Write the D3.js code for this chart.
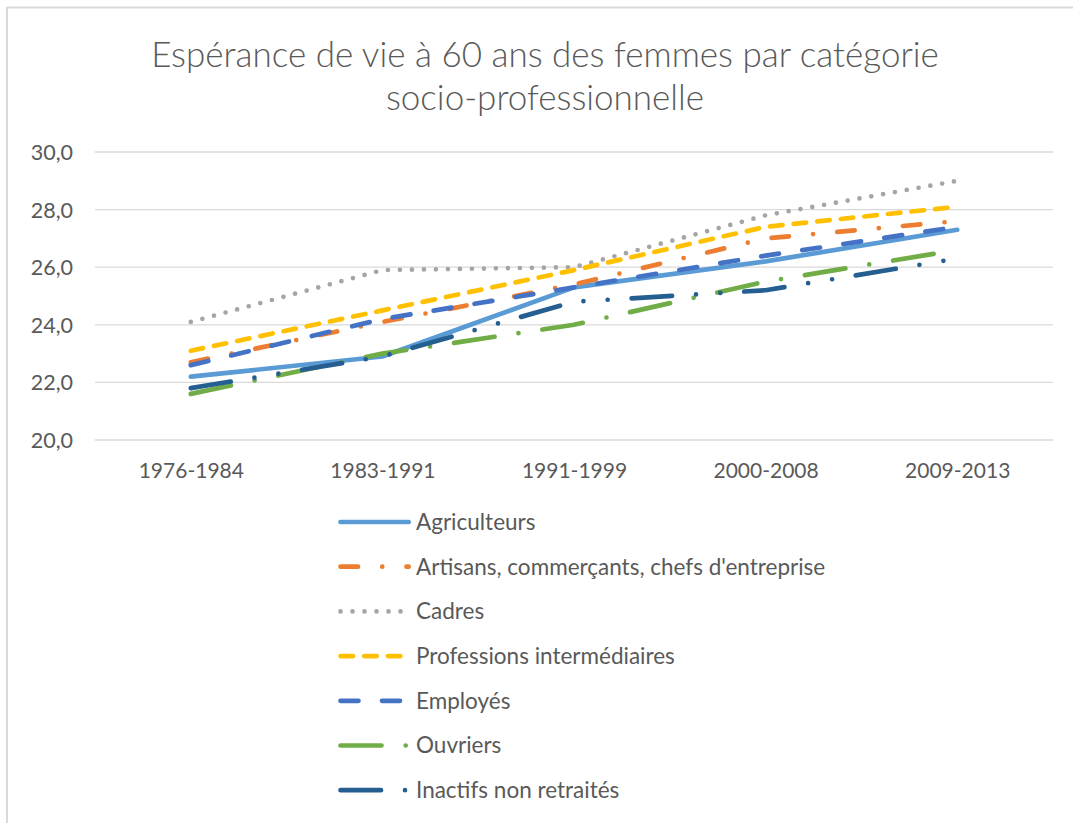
<!DOCTYPE html>
<html>
<head>
<meta charset="utf-8">
<script src="https://cdn.jsdelivr.net/npm/d3@7"></script>
<style>
  body { margin: 0; background: #fff; }
  svg { display: block; font-family: Lato, "Open Sans", sans-serif; }
  .grid line { stroke: #d9d9d9; stroke-width: 1.3; }
  .lbl { fill: #595959; font-size: 21px; }
  .leg { fill: #595959; font-size: 22.5px; }
</style>
</head>
<body>
<svg id="chart" width="1073" height="823"></svg>
<script>
// Espérance de vie à 60 ans des femmes, par CSP

var periods = ['1976-1984', '1983-1991', '1991-1999', '2000-2008', '2009-2013'];
var yTicks = [20, 22, 24, 26, 28, 30];

var seriesNames = ['Agriculteurs', 'Artisans, commerçants, chefs d\'entreprise', 'Cadres',
  'Professions intermédiaires', 'Employés', 'Ouvriers', 'Inactifs non retraités'];

var agriculteurs = [22.2, 22.9, 25.3, 26.2, 27.3];
var artisans     = [22.7, 24.1, 25.4, 27.0, 27.6];
var cadres       = [24.1, 25.9, 26.0, 27.8, 29.0];
var professions  = [23.1, 24.5, 25.9, 27.4, 28.1];
var employes     = [22.6, 24.2, 25.3, 26.4, 27.4];
var ouvriers     = [21.6, 23.0, 24.0, 25.5, 26.6];
var inactifs     = [21.8, 22.9, 24.8, 25.2, 26.3];

var allValues = [agriculteurs, artisans, cadres, professions, employes, ouvriers, inactifs];

// line looks (excel-ish)
var colors = ['#5b9bd5', '#ed7d31', '#a5a5a5', '#ffc000', '#4472c4', '#70ad47', '#255e91'];
var dashes = [null, '17.5 24.25 0 24.25', '0 12', '12.5 11.2', '18 23.5',
  '41 24.2 0 24.2', '40.5 24 0 24.3 0 24'];

var svg = d3.select('#chart');
var W = 1073, H = 823;

// frame (only top + left visible in the screenshot)
svg.append('line').attr('x1', 7).attr('y1', 7.5).attr('x2', W).attr('y2', 7.5)
  .attr('stroke', '#d9d9d9').attr('stroke-width', 2);
svg.append('line').attr('x1', 7).attr('y1', 7).attr('x2', 7).attr('y2', H)
  .attr('stroke', '#d9d9d9').attr('stroke-width', 2);

var margin = { top: 152, right: 20, bottom: 383, left: 95 };
var plotRight = 1053;

var x = d3.scalePoint().domain(periods).range([margin.left, plotRight]).padding(0.5);
var y = d3.scaleLinear().domain([20, 30]).range([440, 152]);

// title
var title = svg.append('text')
  .attr('x', 545).attr('text-anchor', 'middle')
  .style('font-size', '35px').style('font-weight', 300).style('fill', '#595959');
title.append('tspan').attr('x', 545).attr('y', 67).text('Espérance de vie à 60 ans des femmes par catégorie');
title.append('tspan').attr('x', 545).attr('y', 110).text('socio-professionnelle');

// gridlines
svg.append('g').attr('class', 'grid')
  .selectAll('line').data(yTicks).enter().append('line')
  .attr('x1', margin.left).attr('x2', plotRight)
  .attr('y1', function(d) { return y(d); })
  .attr('y2', function(d) { return y(d); });

// y axis labels
var yAxis = d3.axisLeft(y).tickValues(yTicks).tickSize(0).tickPadding(0)
  .tickFormat(function(d) { return d3.format('.1f')(d).replace('.', ','); });
var gy = svg.append('g').attr('transform', 'translate(73,0)').call(yAxis);
gy.select('.domain').remove();
gy.selectAll('text').attr('class', 'lbl').attr('fill', null).attr('dy', '0.35em')
  .style('font-size', '21.5px');
gy.attr('font-size', null).attr('font-family', null);

// x axis labels
var xAxis = d3.axisBottom(x).tickSize(0).tickPadding(0);
var gx = svg.append('g').attr('transform', 'translate(0,478)').call(xAxis);
gx.select('.domain').remove();
gx.selectAll('text').attr('class', 'lbl').attr('fill', null).attr('dy', 0);
gx.attr('font-size', null).attr('font-family', null);

// lines
var line = d3.line()
  .x(function(d, i) { return x(periods[i]); })
  .y(function(d) { return y(d); });

svg.append('g').selectAll('path').data(allValues).enter().append('path')
  .attr('d', line)
  .attr('fill', 'none')
  .attr('stroke', function(d, i) { return colors[i]; })
  .attr('stroke-width', 4.7)
  .attr('stroke-linecap', 'round')
  .attr('stroke-linejoin', 'round')
  .attr('stroke-dasharray', function(d, i) { return dashes[i]; });

// legend
var legend = svg.append('g').selectAll('g').data(seriesNames).enter().append('g')
  .attr('transform', function(d, i) { return 'translate(0,' + (522 + i * 44.7) + ')'; });

legend.append('line')
  .attr('x1', 340.5).attr('x2', 408.7).attr('y1', 0).attr('y2', 0)
  .attr('stroke', function(d, i) { return colors[i]; })
  .attr('stroke-width', 4.7)
  .attr('stroke-linecap', 'round')
  .attr('stroke-dasharray', function(d, i) { return dashes[i]; });

legend.append('text')
  .attr('class', 'leg')
  .attr('x', 416).attr('y', 0).attr('dy', '0.35em')
  .text(function(d) { return d; });
</script>
</body>
</html>
